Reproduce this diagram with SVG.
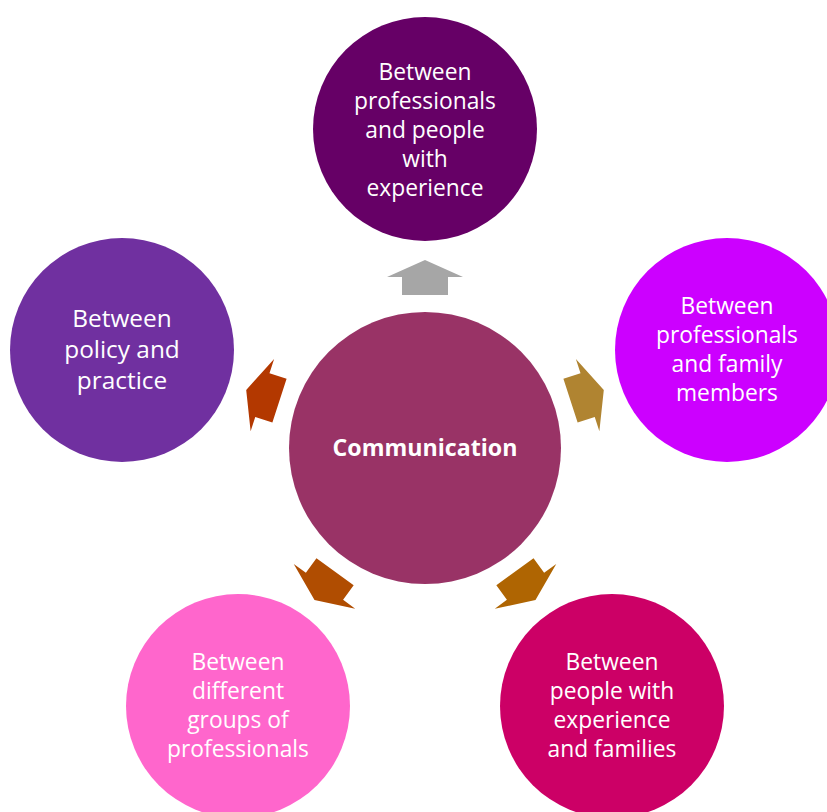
<svg xmlns="http://www.w3.org/2000/svg" width="827" height="812" viewBox="0 0 827 812">
<style>
text{font-family:"Open Sans","Noto Sans","Liberation Sans",sans-serif;fill:#fff;text-anchor:middle;font-size:22.8px}
.c{font-weight:bold;font-size:23.2px}
.big{font-size:24.4px}
</style>
<defs>
<polygon id="arr" points="402,295 448,295 448,277 463,277 425,260 387,277 402,277"/>
</defs>
<rect width="827" height="812" fill="#fff"/>
<g id="connectors">
<use href="#arr" fill="#A6A6A6"/>
<use href="#arr" fill="#B08431" transform="rotate(72 425 448)"/>
<use href="#arr" fill="#AF6502" transform="rotate(144 425 448)"/>
<use href="#arr" fill="#B04D01" transform="rotate(216 425 448)"/>
<use href="#arr" fill="#B33800" transform="rotate(288 425 448)"/>
</g>
<g id="center">
<circle cx="425" cy="448" r="136" fill="#993366"/>
<text class="c" x="425" y="456">Communication</text>
</g>
<g id="top">
<circle cx="425" cy="129" r="112" fill="#660066"/>
<text x="425" y="80">Between</text>
<text x="425" y="109">professionals</text>
<text x="425" y="138">and people</text>
<text x="425" y="167">with</text>
<text x="425" y="196">experience</text>
</g>
<g id="right">
<circle cx="727" cy="350" r="112" fill="#CC00FF"/>
<text x="727" y="314">Between</text>
<text x="727" y="343">professionals</text>
<text x="727" y="372">and family</text>
<text x="727" y="401">members</text>
</g>
<g id="bottomright">
<circle cx="612" cy="706" r="112" fill="#CC0066"/>
<text x="612" y="670">Between</text>
<text x="612" y="699">people with</text>
<text x="612" y="728">experience</text>
<text x="612" y="757">and families</text>
</g>
<g id="bottomleft">
<circle cx="238" cy="706" r="112" fill="#FF66CC"/>
<text x="238" y="670">Between</text>
<text x="238" y="699">different</text>
<text x="238" y="728">groups of</text>
<text x="238" y="757">professionals</text>
</g>
<g id="left">
<circle cx="122" cy="350" r="112" fill="#7030A0"/>
<text class="big" x="122" y="327">Between</text>
<text class="big" x="122" y="358">policy and</text>
<text class="big" x="122" y="389">practice</text>
</g>
</svg>
